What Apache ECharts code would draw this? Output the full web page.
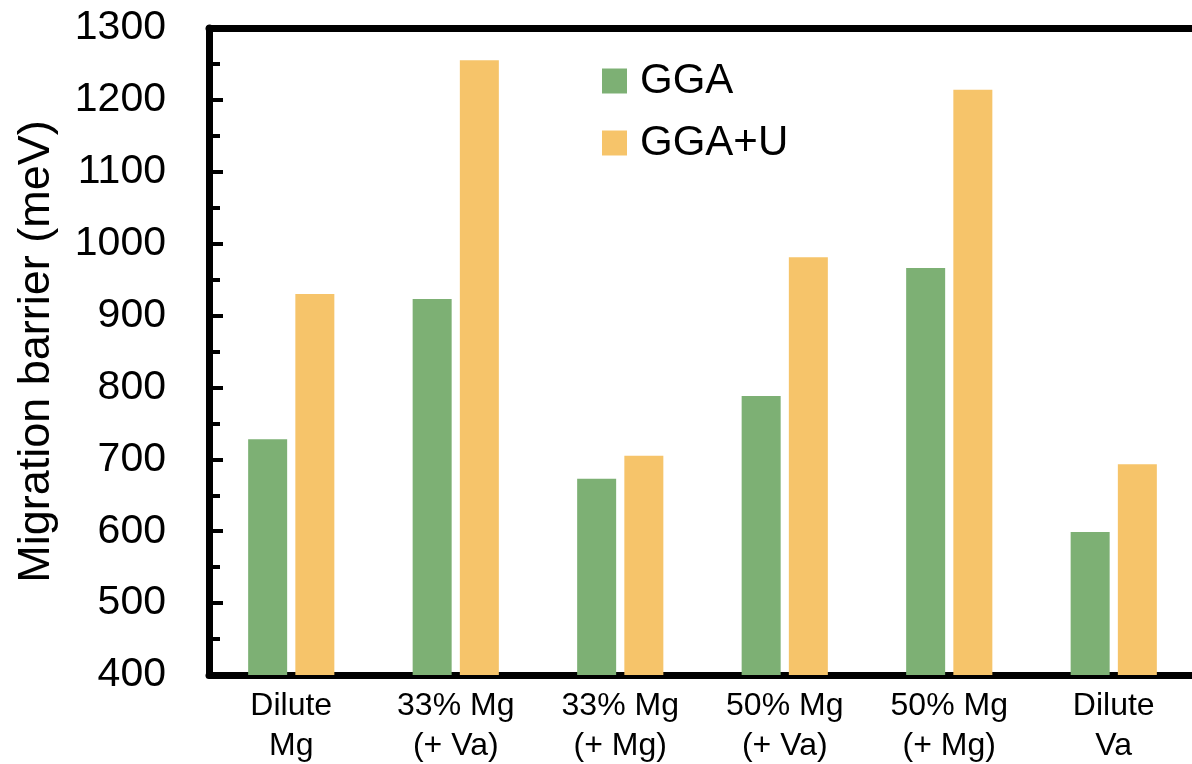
<!DOCTYPE html>
<html>
<head>
<meta charset="utf-8">
<script src="https://cdn.jsdelivr.net/npm/echarts@6/dist/echarts.min.js"></script>
<style>
html,body{margin:0;padding:0;background:#fff;}
#chart{width:1192px;height:764px;}
</style>
</head>
<body>
<div id="chart"></div>
<script>
const categories = ['Dilute\nMg', '33% Mg\n(+ Va)', '33% Mg\n(+ Mg)', '50% Mg\n(+ Va)', '50% Mg\n(+ Mg)', 'Dilute\nVa'];
const seriesNames = ['GGA', 'GGA+U'];
const ggaValues = [728, 923, 673, 788, 966, 599];
const ggaUValues = [930, 1255, 705, 981, 1214, 693];
const yMin = 400, yMax = 1300, yInterval = 100;
const yAxisTitle = 'Migration barrier (meV)';

const FONT = '"Liberation Sans", Arial, Helvetica, sans-serif';
const chart = echarts.init(document.getElementById('chart'), null, {renderer: 'canvas'});
chart.setOption({
  animation: false,
  backgroundColor: '#ffffff',
  grid: {left: 209, top: 28, bottom: 89, width: 987, outerBoundsMode: 'none', containLabel: false},
  legend: {
    orient: 'vertical',
    left: 597,
    top: 55,
    itemWidth: 25,
    itemHeight: 25,
    itemGap: 20,
    icon: 'rect',
    textStyle: {fontFamily: FONT, fontSize: 42, color: '#000', padding: [0, 0, 0, 8]},
    data: seriesNames
  },
  xAxis: [{
    type: 'category',
    data: categories,
    position: 'bottom',
    axisLine: {show: true, lineStyle: {color: '#000', width: 7}},
    axisTick: {show: false},
    axisLabel: {fontFamily: FONT, fontSize: 32, color: '#000', lineHeight: 40, margin: 11, interval: 0}
  }, {
    type: 'category',
    data: categories,
    position: 'top',
    axisLine: {show: true, lineStyle: {color: '#000', width: 7}},
    axisTick: {show: false},
    axisLabel: {show: false}
  }],
  yAxis: {
    type: 'value',
    min: yMin,
    max: yMax,
    interval: yInterval,
    name: yAxisTitle,
    nameLocation: 'middle',
    nameGap: 150,
    nameTextStyle: {fontFamily: FONT, fontSize: 45, color: '#000'},
    axisLine: {show: true, lineStyle: {color: '#000', width: 7}},
    axisTick: {show: true, inside: true, length: 14, lineStyle: {color: '#000', width: 4}},
    minorTick: {show: true, splitNumber: 2, length: 11, lineStyle: {color: '#000', width: 4}},
    splitLine: {show: false},
    axisLabel: {fontFamily: FONT, fontSize: 41, color: '#000', margin: 43, formatter: v => String(v)}
  },
  series: [{
    name: seriesNames[0],
    type: 'bar',
    data: ggaValues,
    barWidth: 39,
    barGap: '21%',
    itemStyle: {color: '#7DB074'}
  }, {
    name: seriesNames[1],
    type: 'bar',
    data: ggaUValues,
    barWidth: 39,
    barGap: '21%',
    itemStyle: {color: '#F6C46A'}
  }]
});
</script>
</body>
</html>
